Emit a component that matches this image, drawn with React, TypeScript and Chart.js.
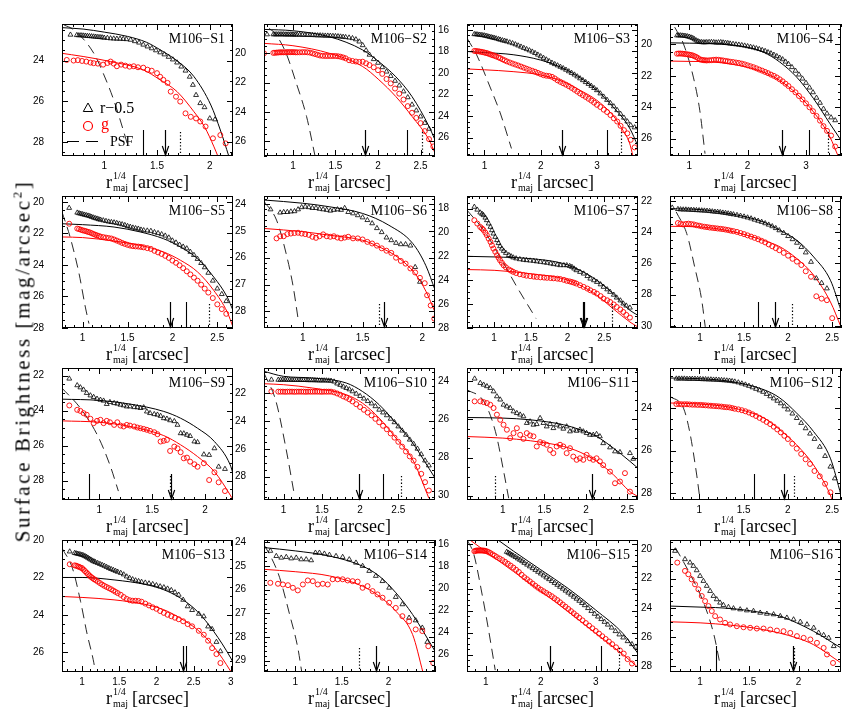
import React, { useEffect, useRef } from "react";
import { Chart, registerables } from "chart.js";
Chart.register(...registerables);

// ---------------- data (x = r_maj^(1/4) [arcsec], y = mag/arcsec^2) ----------------
// S1
const s1x = [0.68,0.74,0.76,0.78,0.8,0.82,0.84,0.86,0.88,0.9,0.92,0.94,0.96,0.98,1.0,1.03,1.06,1.09,1.12,1.15,1.18,1.21,1.25,1.29,1.33,1.37,1.41,1.45,1.49,1.53,1.57,1.61,1.65,1.69,1.73,1.77,1.81,1.84,1.87,1.91,1.95,2.0,2.05];
const s1r = [22.73,22.75,22.76,22.76,22.77,22.78,22.79,22.8,22.81,22.82,22.83,22.84,22.85,22.86,22.88,22.89,22.91,22.92,22.93,22.93,22.94,22.95,22.98,23.05,23.12,23.22,23.31,23.4,23.5,23.6,23.7,23.82,23.95,24.1,24.3,24.5,24.8,25.2,25.7,26.1,26.3,26.85,26.9];
const s1gx = [0.645,0.71,0.75,0.79,0.83,0.87,0.9,0.94,0.99,1.03,1.06,1.09,1.12,1.16,1.2,1.24,1.28,1.32,1.37,1.41,1.45,1.5,1.53,1.56,1.6,1.63,1.68,1.72,1.77,1.82,1.87,1.91,1.96,2.03,2.1,2.15];
const s1g = [23.97,24.0,23.98,24.02,24.05,24.1,24.13,24.15,24.2,24.12,24.05,24.15,24.28,24.2,24.25,24.3,24.28,24.33,24.35,24.45,24.5,24.62,24.8,24.95,25.1,25.53,25.78,26.02,26.6,26.77,26.85,27.0,27.25,27.83,27.67,28.08];
const s1frx = [0.6,0.8,1.0,1.22,1.4,1.53,1.7,1.85,2.01,2.1,2.18];
const s1fry = [22.38,22.45,22.6,22.81,23.1,23.47,24.05,24.79,26.19,27.42,28.7];
const s1fgx = [0.58,0.8,1.06,1.37,1.53,1.69,1.85,1.95,2.04,2.08];
const s1fgy = [23.63,23.8,24.05,24.46,24.95,25.53,26.52,27.26,28.25,28.75];
const s1px = [0.62,0.71,0.9,0.99,1.09,1.18,1.23];
const s1py = [22.25,22.48,23.63,24.62,25.94,27.42,28.3];
// S2
const s2x = [0.696,0.77,0.79,0.81,0.83,0.85,0.87,0.89,0.91,0.93,0.95,0.97,0.99,1.01,1.03,1.05,1.08,1.11,1.14,1.17,1.2,1.23,1.26,1.29,1.32,1.35,1.38,1.41,1.44,1.47,1.5,1.53,1.56,1.59,1.62,1.66,1.7,1.74,1.78,1.82,1.86,1.9,1.95,2.0,2.05,2.1,2.15,2.2,2.25,2.3,2.35,2.4,2.45,2.5,2.55,2.6];
const s2r = [18.71,18.71,18.71,18.71,18.71,18.71,18.71,18.71,18.72,18.72,18.72,18.72,18.72,18.73,18.73,18.73,18.74,18.74,18.75,18.75,18.76,18.76,18.77,18.78,18.78,18.79,18.8,18.8,18.81,18.82,18.83,18.84,18.86,18.88,18.9,18.93,18.97,19.05,19.2,19.45,19.8,20.1,20.4,20.65,20.95,21.25,21.55,21.88,22.2,22.6,23.0,23.5,23.9,24.31,24.75,25.15];
const s2gx = [0.66,0.77,0.79,0.81,0.83,0.85,0.87,0.89,0.91,0.93,0.95,0.97,0.99,1.01,1.03,1.05,1.08,1.11,1.14,1.17,1.2,1.23,1.26,1.29,1.32,1.35,1.38,1.41,1.44,1.47,1.5,1.53,1.56,1.59,1.62,1.66,1.7,1.74,1.78,1.82,1.86,1.9,1.95,2.0,2.05,2.1,2.15,2.2,2.25,2.3,2.35,2.4,2.45,2.5,2.55,2.6,2.65];
const s2g = [20.0,19.97,19.96,19.95,19.94,19.93,19.93,19.93,19.93,19.92,19.92,19.92,19.92,19.92,19.93,19.93,19.93,19.92,19.92,19.93,19.95,20.0,20.05,20.1,20.15,20.17,20.18,20.18,20.18,20.18,20.18,20.2,20.23,20.28,20.34,20.47,20.52,20.56,20.59,20.57,20.68,20.8,20.95,21.15,21.4,21.75,22.05,22.4,22.75,23.15,23.6,24.05,24.4,24.76,25.3,25.85,26.35];
const s2frx = [0.66,1.0,1.43,1.82,2.01,2.21,2.4,2.6,2.67];
const s2fry = [18.37,18.46,18.87,19.77,20.57,21.6,22.95,24.99,25.9];
const s2fgx = [0.66,1.0,1.43,1.82,2.01,2.21,2.4,2.6,2.67];
const s2fgy = [19.32,19.48,20.0,20.9,21.8,22.95,24.3,25.9,26.8];
const s2px = [0.72,0.79,0.92,1.04,1.16,1.26];
const s2py = [18.3,18.64,20.0,22.04,24.3,27.0];
// S3
const s3x = [0.82,0.85,0.88,0.91,0.94,0.97,1.0,1.03,1.06,1.09,1.12,1.15,1.18,1.21,1.25,1.28,1.32,1.36,1.4,1.45,1.5,1.55,1.6,1.65,1.7,1.75,1.8,1.85,1.9,1.95,2.0,2.05,2.1,2.15,2.2,2.25,2.3,2.35,2.4,2.45,2.5,2.55,2.6,2.65,2.7,2.75,2.8,2.85,2.9,2.95,3.0,3.06,3.12,3.18,3.24,3.3,3.36,3.42,3.48,3.54,3.6,3.67];
const s3r = [16.4,16.41,16.43,16.45,16.47,16.5,16.52,16.56,16.6,16.64,16.68,16.72,16.76,16.8,16.86,16.91,16.97,17.02,17.08,17.16,17.24,17.34,17.45,17.56,17.68,17.79,17.9,18.02,18.15,18.3,18.45,18.6,18.75,18.9,19.05,19.18,19.3,19.43,19.56,19.7,19.85,20.0,20.15,20.32,20.5,20.67,20.85,21.02,21.2,21.4,21.6,21.9,22.2,22.5,22.8,23.1,23.45,23.8,24.15,24.5,24.85,25.05];
const s3g = [17.95,17.96,17.98,18.0,18.03,18.06,18.1,18.14,18.18,18.24,18.3,18.35,18.4,18.47,18.55,18.62,18.73,18.82,18.92,19.02,19.12,19.21,19.3,19.4,19.5,19.6,19.7,19.79,19.88,19.99,20.1,20.2,20.25,20.28,20.35,20.5,20.68,20.82,20.95,21.08,21.22,21.38,21.55,21.72,21.9,22.06,22.22,22.39,22.56,22.75,22.95,23.15,23.4,23.62,23.9,24.2,24.5,24.9,25.3,25.6,26.2,26.9];
const s3frx = [0.69,1.0,1.51,2.0,2.4,2.69,2.99,3.28,3.58,3.73];
const s3fry = [18.0,18.1,18.3,18.8,19.56,20.4,21.57,23.1,25.1,26.8];
const s3fgx = [0.69,1.0,1.51,2.0,2.4,2.69,2.99,3.28,3.46,3.58,3.64];
const s3fgy = [19.62,19.7,19.87,20.18,20.8,21.57,22.5,23.9,25.3,26.5,27.7];
const s3px = [0.69,0.86,1.1,1.28,1.48];
const s3py = [16.77,18.3,21.3,23.7,27.0];
// S4
const s4x = [0.79,0.82,0.85,0.88,0.91,0.94,0.97,1.0,1.03,1.06,1.09,1.12,1.15,1.18,1.21,1.24,1.27,1.3,1.34,1.38,1.42,1.46,1.5,1.54,1.58,1.62,1.66,1.7,1.75,1.8,1.85,1.9,1.95,2.0,2.05,2.1,2.15,2.2,2.25,2.3,2.35,2.4,2.45,2.5,2.55,2.6,2.65,2.7,2.76,2.82,2.88,2.94,3.0,3.06,3.12,3.18,3.24,3.3,3.36,3.43,3.5];
const s4r = [19.43,19.43,19.43,19.44,19.45,19.47,19.49,19.52,19.56,19.6,19.67,19.75,19.8,19.85,19.86,19.87,19.87,19.86,19.85,19.85,19.86,19.88,19.87,19.86,19.88,19.9,19.92,19.95,19.97,20.0,20.02,20.05,20.08,20.12,20.16,20.2,20.25,20.3,20.36,20.42,20.5,20.57,20.66,20.75,20.85,20.95,21.1,21.25,21.45,21.68,21.92,22.18,22.45,22.75,23.05,23.4,23.72,24.1,24.4,24.65,24.83];
const s4g = [20.59,20.58,20.58,20.59,20.6,20.62,20.63,20.65,20.68,20.7,20.75,20.8,20.87,20.95,20.98,21.0,21.01,21.02,21.01,21.0,20.98,20.97,20.98,21.0,21.02,21.05,21.07,21.1,21.12,21.15,21.18,21.22,21.27,21.33,21.39,21.45,21.52,21.6,21.67,21.75,21.83,21.92,22.0,22.1,22.22,22.35,22.5,22.65,22.85,23.05,23.28,23.5,23.75,24.0,24.25,24.55,24.85,25.2,25.5,25.8,26.5];
const s4frx = [0.67,1.0,1.41,1.98,2.27,2.55,2.84,3.13,3.41,3.6];
const s4fry = [19.9,19.92,19.96,20.17,20.49,21.12,22.08,23.45,25.04,26.1];
const s4fgx = [0.67,1.0,1.41,1.98,2.27,2.55,2.84,3.13,3.41,3.55];
const s4fgy = [21.06,21.08,21.12,21.44,21.76,22.29,23.14,24.3,25.89,27.1];
const s4px = [0.75,0.9,1.07,1.18,1.27];
const s4py = [18.9,19.96,22.08,24.19,26.95];
// S5
const s5x = [0.85,0.94,0.96,0.98,1.0,1.02,1.04,1.06,1.08,1.1,1.12,1.14,1.16,1.18,1.2,1.23,1.26,1.29,1.32,1.35,1.38,1.41,1.44,1.47,1.5,1.53,1.56,1.59,1.62,1.65,1.68,1.72,1.76,1.8,1.84,1.88,1.92,1.96,2.0,2.04,2.08,2.12,2.16,2.2,2.24,2.28,2.32,2.36,2.4,2.45,2.5,2.55,2.6];
const s5r = [20.38,20.68,20.72,20.75,20.78,20.81,20.84,20.87,20.9,20.95,20.99,21.03,21.06,21.1,21.13,21.17,21.21,21.25,21.28,21.3,21.34,21.38,21.42,21.47,21.53,21.58,21.63,21.67,21.7,21.76,21.8,21.82,21.84,21.92,21.98,22.05,22.14,22.26,22.45,22.58,22.72,22.84,22.95,23.17,23.37,23.62,23.88,24.15,24.5,25.0,25.5,25.85,26.3];
const s5g = [21.38,21.69,21.72,21.76,21.8,21.83,21.86,21.9,21.93,21.98,22.03,22.08,22.12,22.16,22.2,22.23,22.26,22.29,22.32,22.38,22.45,22.52,22.6,22.66,22.72,22.77,22.8,22.82,22.83,22.85,22.88,22.93,22.98,23.1,23.2,23.3,23.42,23.55,23.72,23.86,24.02,24.2,24.4,24.6,24.8,25.0,25.25,25.5,25.75,26.1,26.5,26.8,27.1];
const s5frx = [0.77,1.0,1.35,1.64,1.9,2.09,2.28,2.46,2.61,2.675];
const s5fry = [21.38,21.44,21.59,21.9,22.33,22.86,23.6,24.76,26.03,26.88];
const s5fgx = [0.77,1.0,1.35,1.64,1.9,2.09,2.28,2.46,2.61,2.675];
const s5fgy = [22.22,22.26,22.48,22.75,23.17,23.7,24.44,25.61,26.98,27.94];
const s5px = [0.77,0.86,0.96,1.03,1.07];
const s5py = [20.63,22.22,24.55,26.67,27.72];
// S6
const s6x = [0.73,0.78,0.81,0.84,0.87,0.9,0.93,0.96,0.99,1.02,1.05,1.08,1.11,1.14,1.17,1.2,1.23,1.26,1.29,1.32,1.35,1.38,1.42,1.46,1.5,1.54,1.58,1.62,1.66,1.7,1.74,1.78,1.82,1.86,1.9,1.94,1.98,2.02,2.04,2.07,2.1];
const s6r = [24.2,null,24.32,24.3,24.3,24.28,24.27,24.2,24.12,24.1,24.12,24.15,24.15,24.18,24.2,24.22,24.25,24.22,24.2,24.22,24.15,24.3,24.35,24.42,24.5,24.6,24.72,24.9,25.05,25.25,25.35,25.45,25.5,25.5,25.55,26.35,26.9,null,null,null,null];
const s6g = [null,25.28,25.2,25.2,25.12,25.1,25.08,25.07,25.1,25.12,25.15,25.22,25.26,25.2,25.13,25.2,25.22,25.2,25.25,25.28,25.25,25.22,25.28,25.28,25.32,25.41,25.47,25.55,25.65,25.74,25.82,26.0,26.12,26.22,26.4,26.55,26.75,26.95,27.4,27.78,28.27];
const s6frx = [0.675,1.0,1.22,1.5,1.72,1.92,2.03,2.106];
const s6fry = [23.85,23.97,24.1,24.35,24.79,25.47,26.3,27.2];
const s6fgx = [0.675,1.0,1.22,1.5,1.64,1.8,1.94,2.03,2.106];
const s6fgy = [24.91,25.03,25.16,25.35,25.6,26.0,26.6,27.25,28.03];
const s6px = [0.675,0.78,0.86,0.92,0.96];
const s6py = [23.9,24.6,25.84,27.1,28.27];
// S7
const s7x = [0.73,0.77,0.81,0.835,0.855,0.88,0.9,0.925,0.95,0.97,0.99,1.015,1.04,1.06,1.08,1.105,1.13,1.16,1.2,1.23,1.26,1.3,1.35,1.4,1.44,1.49,1.54,1.58,1.63,1.68,1.72,1.77,1.81,1.86,1.9,1.95,1.99,2.03,2.06,2.09,2.12,2.17,2.22,2.27,2.31,2.36,2.4,2.45,2.49,2.54,2.58,2.63,2.67,2.72,2.76,2.8,2.85];
const s7r = [17.86,18.1,18.34,18.45,18.56,18.77,18.98,19.26,19.54,19.82,20.1,20.38,20.65,20.9,21.16,21.36,21.55,21.72,21.9,22.0,22.1,22.18,22.25,22.3,22.33,22.36,22.39,22.43,22.47,22.51,22.55,22.6,22.66,22.7,22.75,22.75,22.75,22.82,22.89,23.03,23.17,23.31,23.45,23.66,23.87,24.01,24.15,24.35,24.56,24.77,24.98,25.22,25.46,25.7,25.96,26.13,26.3];
const s7g = [18.98,19.26,19.54,19.67,19.8,20.02,20.23,20.52,20.8,21.08,21.35,21.62,21.9,22.12,22.33,22.54,22.75,22.92,23.1,23.2,23.3,23.4,23.5,23.56,23.62,23.66,23.7,23.73,23.76,23.78,23.8,23.82,23.84,23.87,23.9,23.97,24.05,24.1,24.15,24.21,24.28,24.42,24.56,24.7,24.84,24.98,25.12,25.33,25.54,25.68,25.82,26.03,26.24,26.45,26.66,26.9,27.13];
const s7frx = [0.63,1.0,1.49,1.94,2.17,2.4,2.62,2.85,2.96];
const s7fry = [22.0,22.05,22.19,22.6,23.17,24.0,25.12,26.52,26.94];
const s7fgx = [0.63,1.0,1.49,1.94,2.17,2.4,2.62,2.85,2.96];
const s7fgy = [23.11,23.17,23.45,23.87,24.42,25.26,26.38,27.5,27.92];
const s7px = [0.63,0.855,1.08,1.31,1.57];
const s7py = [18.14,19.8,22.05,24.56,27.2];
// S8
const s8x = [0.685,0.75,0.78,0.81,0.84,0.87,0.9,0.93,0.96,0.99,1.02,1.05,1.08,1.11,1.14,1.17,1.2,1.23,1.26,1.29,1.32,1.35,1.38,1.42,1.46,1.5,1.54,1.58,1.62,1.66,1.7,1.74,1.78,1.82,1.86,1.9,1.95,2.0,2.05,2.1,2.15,2.2,2.26,2.32,2.38,2.44,2.5];
const s8r = [22.43,22.52,22.54,22.55,22.55,22.56,22.57,22.58,22.59,22.6,22.61,22.62,22.63,22.65,22.67,22.69,22.7,22.72,22.75,22.77,22.8,22.83,22.86,22.9,22.95,23.0,23.06,23.12,23.2,23.27,23.34,23.43,23.52,23.62,23.74,23.88,24.05,24.25,24.45,24.68,24.95,25.3,25.9,26.95,27.25,27.6,null];
const s8g = [null,23.41,23.45,23.5,23.47,23.45,23.48,23.5,23.55,23.58,23.62,23.65,23.67,23.7,23.72,23.74,23.76,23.78,23.8,23.83,23.86,23.9,23.93,23.98,24.05,24.12,24.2,24.28,24.36,24.45,24.55,24.65,24.78,24.9,25.02,25.15,25.32,25.5,25.7,25.88,26.1,26.5,26.85,28.1,28.25,28.35,29.5];
const s8frx = [0.66,1.0,1.34,1.72,1.91,2.1,2.29,2.48,2.6];
const s8fry = [22.49,22.55,22.81,23.34,23.88,24.52,25.58,27.07,29.0];
const s8fgx = [0.66,1.0,1.34,1.72,1.91,2.1,2.29,2.48,2.6];
const s8fgy = [23.62,23.66,23.92,24.52,24.94,25.69,26.75,28.46,30.06];
const s8px = [0.73,0.85,0.94,1.02,1.06];
const s8py = [22.7,24.09,26.22,28.35,30.06];
// S9
const s9x = [0.715,0.79,0.82,0.85,0.88,0.915,0.946,0.978,1.01,1.04,1.07,1.1,1.14,1.17,1.2,1.23,1.26,1.29,1.33,1.36,1.39,1.42,1.45,1.48,1.52,1.55,1.58,1.61,1.64,1.67,1.71,1.74,1.77,1.8,1.83,1.86,1.9,1.93,1.99,2.04,2.09,2.13,2.19];
const s9r = [22.17,22.55,22.67,22.8,22.99,23.13,23.22,23.32,23.38,23.43,23.62,23.51,23.57,23.6,23.66,23.7,23.76,23.76,23.8,23.81,23.85,23.81,24.05,24.14,24.2,24.23,24.3,24.43,24.46,24.55,24.6,24.81,25.29,25.3,25.38,25.45,25.76,25.8,26.5,26.53,26.15,27.2,27.33];
const s9g = [23.7,23.95,24.01,24.14,24.23,24.46,24.71,24.58,24.52,24.71,24.58,24.66,24.81,24.66,24.85,24.9,24.81,24.85,24.9,24.96,25.0,25.04,25.09,25.15,25.23,25.34,25.76,25.72,25.67,26.3,26.05,26.15,26.37,26.72,26.68,26.91,27.06,27.2,27.0,27.96,27.52,28.09,28.59];
const s9frx = [0.646,1.0,1.29,1.61,1.77,1.93,2.09,2.24,2.266];
const s9fry = [23.34,23.41,23.62,24.04,24.43,25.0,25.76,27.1,27.6];
const s9fgx = [0.646,1.0,1.29,1.61,1.77,1.93,2.09,2.24,2.266];
const s9fgy = [24.58,24.66,24.9,25.42,25.95,26.62,27.48,28.82,29.1];
const s9px = [0.646,0.82,0.98,1.1,1.18];
const s9py = [22.71,23.85,25.38,27.1,28.59];
// S10
const s10x = [0.84,0.93,0.96,0.99,1.02,1.05,1.08,1.11,1.14,1.17,1.2,1.23,1.26,1.29,1.32,1.35,1.38,1.41,1.44,1.47,1.5,1.53,1.56,1.59,1.62,1.66,1.7,1.74,1.78,1.82,1.86,1.9,1.95,2.0,2.05,2.1,2.15,2.2,2.25,2.3,2.35,2.4,2.45,2.5,2.55,2.6,2.65,2.7,2.75,2.8,2.85,2.9];
const s10r = [21.04,21.05,21.05,21.04,21.05,21.05,21.05,21.06,21.06,21.06,21.06,21.07,21.07,21.07,21.08,21.08,21.08,21.09,21.09,21.1,21.1,21.1,21.1,21.11,21.12,21.18,21.32,21.42,21.54,21.64,21.74,21.88,22.05,22.22,22.4,22.58,22.75,22.95,23.2,23.4,23.6,23.85,24.1,24.4,24.7,25.0,25.35,25.65,26.0,26.4,26.85,27.2];
const s10g = [21.88,21.9,21.9,21.9,21.91,21.9,21.9,21.9,21.91,21.9,21.9,21.9,21.9,21.91,21.9,21.9,21.9,21.9,21.9,21.9,21.91,21.9,21.9,21.9,21.9,21.95,22.03,22.12,22.24,22.33,22.45,22.6,22.8,23.0,23.2,23.4,23.6,23.85,24.1,24.35,24.6,24.9,25.2,25.5,25.85,26.2,26.55,26.85,27.3,27.8,28.4,29.0];
const s10frx = [0.743,1.0,1.38,1.82,2.03,2.25,2.47,2.69,2.9,2.98];
const s10fry = [20.44,20.8,20.92,21.28,21.88,22.84,24.16,25.6,27.4,28.1];
const s10fgx = [0.743,1.0,1.38,1.82,2.03,2.25,2.47,2.69,2.9];
const s10fgy = [21.33,21.4,21.64,22.12,22.72,23.8,25.24,26.8,29.55];
const s10px = [0.743,0.9,1.03,1.14];
const s10py = [20.56,22.6,25.96,29.3];
// S11
const s11x = [0.66,0.728,0.768,0.808,0.848,0.888,0.928,0.968,1.008,1.048,1.088,1.128,1.168,1.208,1.248,1.288,1.328,1.368,1.408,1.448,1.488,1.528,1.568,1.608,1.648,1.688,1.728,1.768,1.808,1.848,1.888,1.928,1.968,2.008,2.048,2.088,2.128,2.168,2.208,2.29,2.35,2.41,2.47,2.53,2.57];
const s11r = [23.86,24.09,24.18,24.26,24.35,24.53,24.79,24.96,25.23,25.32,25.4,25.58,25.67,25.75,25.84,26.19,26.11,26.28,26.25,25.93,26.19,26.37,26.25,26.46,26.28,26.37,26.49,26.37,26.63,26.54,26.6,26.54,26.63,26.72,26.81,26.81,26.77,26.89,27.25,27.47,27.68,27.72,null,27.77,28.07];
const s11g = [25.05,25.05,25.09,25.14,25.23,25.4,25.75,26.02,26.28,26.54,26.98,26.72,26.46,26.81,27.02,26.72,26.84,26.89,27.42,27.19,27.25,27.33,27.6,27.77,27.42,27.33,27.42,27.77,27.51,27.95,28.12,28.04,28.12,27.86,28.04,28.12,28.04,28.2,28.4,28.74,29.35,29.26,28.82,29.79,null];
const s11frx = [0.568,1.0,1.33,1.73,1.93,2.13,2.33,2.53,2.627];
const s11fry = [25.9,25.93,26.02,26.28,26.54,26.9,27.5,28.2,28.56];
const s11fgx = [0.568,1.0,1.33,1.73,1.93,2.13,2.33,2.53,2.627];
const s11fgy = [26.9,26.98,27.12,27.42,27.72,28.2,28.9,29.79,30.05];
const s11px = [0.568,0.77,0.91,1.01,1.07];
const s11py = [24.44,25.05,26.63,28.74,30.14];
// S12
const s12x = [0.74,0.77,0.8,0.83,0.86,0.89,0.92,0.95,0.98,1.01,1.04,1.07,1.1,1.13,1.16,1.19,1.22,1.25,1.28,1.31,1.34,1.37,1.4,1.44,1.48,1.52,1.56,1.6,1.64,1.68,1.72,1.76,1.8,1.84,1.88,1.92,1.96,2.0,2.05,2.1,2.15,2.2,2.25,2.3,2.36,2.42,2.48,2.53];
const s12r = [22.62,22.62,22.62,22.62,22.63,22.63,22.63,22.63,22.64,22.64,22.65,22.65,22.66,22.66,22.67,22.67,22.68,22.69,22.7,22.71,22.72,22.74,22.76,22.8,22.85,22.9,22.96,23.03,23.1,23.17,23.24,23.34,23.45,23.55,23.66,23.78,23.92,24.07,24.26,24.47,24.7,24.95,25.2,25.45,25.82,26.25,26.75,27.3];
const s12g = [23.81,23.81,23.82,23.82,23.82,23.83,23.84,23.84,23.85,23.85,23.86,23.87,23.88,23.89,23.9,23.91,23.92,23.93,23.95,23.96,23.97,24.0,24.03,24.06,24.1,24.15,24.21,24.29,24.37,24.46,24.55,24.65,24.75,24.87,25.0,25.14,25.3,25.45,25.67,25.9,26.15,26.4,26.62,26.95,27.2,27.55,27.95,null];
const s12frx = [0.668,1.0,1.35,1.73,1.91,2.1,2.29,2.48,2.6];
const s12fry = [22.59,22.62,22.75,23.14,23.53,24.24,25.1,26.35,28.08];
const s12fgx = [0.668,1.0,1.35,1.73,1.91,2.1,2.29,2.48,2.5];
const s12fgy = [23.76,23.81,23.97,24.47,25.02,25.73,26.67,28.08,28.31];
const s12px = [0.668,0.82,0.89,0.97,1.0];
const s12py = [23.45,24.0,25.1,27.14,28.08];
// S13
const s13x = [0.834,0.9,0.92,0.94,0.96,0.98,1.0,1.02,1.04,1.06,1.08,1.1,1.12,1.14,1.16,1.18,1.21,1.24,1.27,1.3,1.33,1.36,1.39,1.42,1.45,1.48,1.52,1.56,1.6,1.64,1.68,1.72,1.76,1.8,1.85,1.9,1.95,2.0,2.05,2.1,2.15,2.2,2.25,2.3,2.36,2.42,2.48,2.57,2.637,2.695,2.749,2.807,2.861];
const s13r = [20.61,20.69,20.71,20.73,20.75,20.77,20.79,20.82,20.86,20.9,20.95,21.0,21.05,21.1,21.14,21.18,21.23,21.28,21.33,21.38,21.44,21.5,21.55,21.6,21.65,21.7,21.76,21.84,21.95,22.03,22.1,22.16,22.2,22.24,22.28,22.32,22.36,22.42,22.48,22.53,22.6,22.68,22.8,22.93,23.2,23.55,23.75,23.95,24.09,24.63,24.77,25.46,25.96];
const s13g = [21.29,21.35,21.37,21.4,21.43,21.47,21.5,21.58,21.66,21.74,21.82,21.9,21.97,22.03,22.09,22.14,22.22,22.3,22.38,22.45,22.51,22.57,22.63,22.7,22.77,22.84,22.93,23.05,23.15,23.22,23.25,23.25,23.26,23.3,23.4,23.5,23.6,23.68,23.8,23.9,24.0,24.08,24.16,24.24,24.35,24.5,24.62,24.86,25.07,25.39,25.79,26.11,26.59];
const s13frx = [0.73,1.0,1.43,1.87,2.1,2.32,2.55,2.77,3.0,3.03];
const s13fry = [22.0,22.0,22.13,22.39,22.66,23.1,23.82,24.89,26.32,26.55];
const s13fgx = [0.73,1.0,1.43,1.87,2.1,2.32,2.55,2.77,3.0,3.03];
const s13fgy = [23.02,23.07,23.2,23.46,23.73,24.18,24.8,25.7,27.04,27.25];
const s13px = [0.73,0.87,0.98,1.07,1.15,1.18];
const s13py = [20.43,21.5,23.29,25.07,26.41,27.07];
// S14
const s14x = [0.733,0.797,0.85,0.904,0.957,1.011,1.064,1.118,1.171,1.217,1.26,1.313,1.367,1.438,1.509,1.58,1.652,1.723,1.794,1.865,1.936,2.008,2.079,2.15,2.222,2.293,2.364,2.417];
const s14r = [24.36,24.58,24.65,24.62,24.68,24.65,24.72,24.72,24.76,24.44,24.44,24.48,24.53,24.58,24.62,24.72,24.86,25.0,25.21,25.42,25.64,25.92,26.31,26.62,27.19,27.3,27.61,28.21];
const s14gx = [0.733,0.815,0.868,0.922,0.975,1.028,1.082,1.135,1.189,1.242,1.296,1.349,1.402,1.456,1.509,1.563,1.616,1.67,1.723,1.776,1.83,1.883,1.937,2.008,2.079,2.15,2.222,2.293,2.364,2.428,2.481];
const s14g = [25.71,25.75,25.78,25.81,25.92,26.03,25.78,25.61,25.64,25.78,25.75,25.78,25.56,25.56,25.56,25.61,25.64,25.66,25.92,25.85,26.06,26.2,26.34,26.55,26.77,27.12,27.34,27.68,27.75,28.39,29.1];
const s14frx = [0.665,1.0,1.37,1.72,1.9,2.08,2.26,2.5];
const s14fry = [24.22,24.36,24.58,25.0,25.42,26.13,27.05,28.6];
const s14fgx = [0.665,1.0,1.37,1.72,1.9,2.08,2.26,2.37];
const s14fgy = [25.14,25.24,25.42,25.85,26.27,26.91,27.9,29.48];
const s14px = [0.665,0.75,0.833,0.94,1.028,1.07];
const s14py = [24.1,24.7,25.49,27.05,28.46,29.48];
// S15
const s15x = [1.38,1.41,1.44,1.47,1.5,1.54,1.58,1.62,1.66,1.7,1.75,1.8,1.85,1.9,1.95,2.0,2.05,2.1,2.15,2.2,2.25,2.3,2.35,2.4,2.45,2.5,2.55,2.6,2.65,2.7,2.75,2.8,2.86,2.92,2.98,3.04,3.1,3.16,3.22,3.29,3.36,3.43,3.5,3.58,3.66,3.73];
const s15r = [16.68,16.76,16.85,16.94,17.03,17.15,17.28,17.4,17.53,17.68,17.84,18.0,18.16,18.32,18.49,18.65,18.82,19.0,19.16,19.33,19.5,19.67,19.85,20.02,20.2,20.38,20.56,20.75,20.93,21.12,21.32,21.52,21.78,22.04,22.3,22.55,22.78,23.03,23.28,23.55,23.87,24.17,24.45,24.78,25.05,25.28];
const s15gx = [0.79,0.81,0.83,0.85,0.87,0.89,0.91,0.93,0.95,0.97,0.99,1.02,1.05,1.08,1.12,1.16,1.2,1.25,1.3,1.35,1.4,1.45,1.5,1.55,1.6,1.65,1.7,1.75,1.8,1.85,1.9,1.95,2.0,2.05,2.1,2.15,2.2,2.25,2.3,2.35,2.4,2.45,2.5,2.55,2.6,2.65,2.7,2.76,2.82,2.88,2.94,3.0,3.06,3.12,3.18,3.24,3.3,3.37,3.44,3.51,3.58,3.66];
const s15g = [16.62,16.58,16.56,16.55,16.55,16.55,16.55,16.55,16.56,16.57,16.59,16.63,16.7,16.78,16.9,17.02,17.15,17.28,17.42,17.58,17.75,17.92,18.1,18.3,18.5,18.75,18.98,19.16,19.35,19.55,19.75,19.93,20.1,20.25,20.4,20.55,20.7,20.88,21.05,21.25,21.45,21.65,21.85,22.05,22.25,22.45,22.65,22.89,23.13,23.37,23.61,23.85,24.09,24.33,24.57,24.81,25.05,25.33,25.61,25.9,26.4,26.8];
const s15frx = [1.22,1.5,2.0,2.5,3.0,3.5,3.77];
const s15fry = [15.6,16.6,18.3,20.0,21.95,24.1,25.9];
const s15fgx = [0.71,1.0,1.5,2.0,2.5,3.0,3.5,3.77];
const s15fgy = [15.6,16.65,18.45,20.25,22.1,24.05,26.0,27.15];
const s15px = [0.66,0.78,0.93,1.05,1.17];
const s15py = [15.6,16.9,20.5,23.8,27.4];
// S16
const s16x = [0.746,0.847,0.898,0.932,0.966,1.0,1.034,1.068,1.102,1.136,1.169,1.203,1.237,1.288,1.339,1.407,1.475,1.542,1.61,1.678,1.746,1.814,1.881,1.949,2.017,2.085,2.153,2.203,2.254,2.305,2.356];
const s16r = [20.1,20.67,20.9,21.13,21.43,21.82,22.16,22.5,22.85,23.19,23.42,23.65,23.81,23.95,24.04,24.11,24.18,24.22,24.34,24.41,24.45,24.57,24.68,24.8,24.96,25.14,25.37,25.71,25.87,26.06,26.63];
const s16gx = [0.769,0.847,0.881,0.915,0.949,0.983,1.017,1.051,1.085,1.119,1.153,1.203,1.254,1.305,1.373,1.441,1.508,1.576,1.644,1.712,1.78,1.847,1.915,1.983,2.051,2.119,2.186,2.254,2.288,2.349];
const s16g = [20.9,21.47,21.7,22.05,22.39,22.73,23.19,23.54,23.88,24.22,24.57,24.8,25.03,25.14,25.26,25.33,25.37,25.42,25.42,25.49,25.56,25.6,25.72,25.94,26.06,26.17,26.4,26.75,27.2,27.78];
const s16frx = [0.695,1.0,1.31,1.64,1.81,1.98,2.15,2.43];
const s16fry = [23.88,23.95,24.04,24.34,24.57,25.03,25.6,26.75];
const s16fgx = [0.695,1.0,1.31,1.64,1.98,2.15,2.43];
const s16fgy = [24.96,25.03,25.19,25.49,26.06,26.52,27.78];
const s16px = [0.75,0.9,1.03,1.14,1.2];
const s16py = [19.87,21.7,23.54,25.83,27.78];

// axis tick labels
const xt05a = [1, 1.5, 2];
const xt05b = [1, 1.5, 2, 2.5];
const xt05c = [1, 1.5, 2, 2.5, 3];
const xt1 = [1, 2, 3];

type Mk = [number, "solid" | "arrow" | "dotted"];
interface P {
  name: string; xr: [number, number]; yr: [number, number];
  xt: number[]; yt: number[]; xm: number; ym: number;
  rx: number[]; ry: (number | null)[]; gx: number[]; gy: (number | null)[];
  frx: number[]; fry: number[]; fgx: number[]; fgy: number[]; px: number[]; py: number[];
  mk: Mk[]; legend?: boolean;
}

const panels: P[] = [
  { name: "M106−S1", xr: [0.6, 2.22], yr: [22.2, 28.7], xt: xt05a, yt: [24, 26, 28], xm: 0.1, ym: 0.5,
    rx: s1x, ry: s1r, gx: s1gx, gy: s1g, frx: s1frx, fry: s1fry, fgx: s1fgx, fgy: s1fgy, px: s1px, py: s1py,
    mk: [[1.368, "solid"], [1.574, "arrow"], [1.717, "dotted"]], legend: true },
  { name: "M106−S2", xr: [0.66, 2.67], yr: [18, 27], xt: xt05b, yt: [20, 22, 24, 26], xm: 0.1, ym: 0.5,
    rx: s2x, ry: s2r, gx: s2gx, gy: s2g, frx: s2frx, fry: s2fry, fgx: s2fgx, fgy: s2fgy, px: s2px, py: s2py,
    mk: [[1.849, "arrow"], [2.344, "solid"], [2.519, "dotted"]] },
  { name: "M106−S3", xr: [0.69, 3.73], yr: [15.45, 27.7], xt: xt1, yt: [16, 18, 20, 22, 24, 26], xm: 0.2, ym: 0.5,
    rx: s3x, ry: s3r, gx: s3x, gy: s3g, frx: s3frx, fry: s3fry, fgx: s3fgx, fgy: s3fgy, px: s3px, py: s3py,
    mk: [[2.386, "arrow"], [3.177, "solid"], [3.43, "dotted"]] },
  { name: "M106−S4", xr: [0.67, 3.6], yr: [18.7, 27.1], xt: xt1, yt: [20, 22, 24, 26], xm: 0.2, ym: 0.5,
    rx: s4x, ry: s4r, gx: s4x, gy: s4g, frx: s4frx, fry: s4fry, fgx: s4fgx, fgy: s4fgy, px: s4px, py: s4py,
    mk: [[2.594, "arrow"], [3.057, "solid"], [3.371, "dotted"]] },
  { name: "M106−S5", xr: [0.77, 2.675], yr: [19.62, 28], xt: xt05b, yt: [20, 22, 24, 26, 28], xm: 0.1, ym: 0.5,
    rx: s5x, ry: s5r, gx: s5x, gy: s5g, frx: s5frx, fry: s5fry, fgx: s5fgx, fgy: s5fgy, px: s5px, py: s5py,
    mk: [[1.971, "arrow"], [2.146, "solid"], [2.406, "dotted"]] },
  { name: "M106−S6", xr: [0.675, 2.106], yr: [23.7, 28.62], xt: xt05a, yt: [24, 25, 26, 27, 28], xm: 0.1, ym: 0.2,
    rx: s6x, ry: s6r, gx: s6x, gy: s6g, frx: s6frx, fry: s6fry, fgx: s6fgx, fgy: s6fgy, px: s6px, py: s6py,
    mk: [[1.639, "dotted"], [1.681, "arrow"]] },
  { name: "M106−S7", xr: [0.63, 2.96], yr: [16.95, 28], xt: xt05b, yt: [18, 20, 22, 24, 26, 28], xm: 0.1, ym: 0.5,
    rx: s7x, ry: s7r, gx: s7x, gy: s7g, frx: s7frx, fry: s7fry, fgx: s7fgx, fgy: s7fgy, px: s7px, py: s7py,
    mk: [[2.21, "arrow"], [2.222, "arrow"], [2.61, "dotted"]] },
  { name: "M106−S8", xr: [0.66, 2.6], yr: [21.68, 30.13], xt: xt05b, yt: [22, 24, 26, 28, 30], xm: 0.1, ym: 0.5,
    rx: s8x, ry: s8r, gx: s8x, gy: s8g, frx: s8frx, fry: s8fry, fgx: s8fgx, fgy: s8fgy, px: s8px, py: s8py,
    mk: [[1.664, "solid"], [1.854, "arrow"], [2.044, "dotted"]] },
  { name: "M106−S9", xr: [0.646, 2.266], yr: [21.56, 29.1], xt: xt05a, yt: [22, 24, 26, 28], xm: 0.1, ym: 0.5,
    rx: s9x, ry: s9r, gx: s9x, gy: s9g, frx: s9frx, fry: s9fry, fgx: s9fgx, fgy: s9fgy, px: s9px, py: s9py,
    mk: [[0.899, "solid"], [1.668, "dotted"], [1.674, "arrow"]] },
  { name: "M106−S10", xr: [0.743, 2.98], yr: [20.2, 29.68], xt: xt05b, yt: [22, 24, 26, 28], xm: 0.1, ym: 0.5,
    rx: s10x, ry: s10r, gx: s10x, gy: s10g, frx: s10frx, fry: s10fry, fgx: s10fgx, fgy: s10fgy, px: s10px, py: s10py,
    mk: [[1.991, "arrow"], [2.296, "solid"], [2.535, "dotted"]] },
  { name: "M106−S11", xr: [0.568, 2.627], yr: [23.3, 30.23], xt: xt05b, yt: [24, 26, 28, 30], xm: 0.1, ym: 0.5,
    rx: s11x, ry: s11r, gx: s11x, gy: s11g, frx: s11frx, fry: s11fry, fgx: s11fgx, fgy: s11fgy, px: s11px, py: s11py,
    mk: [[0.908, "dotted"], [2.076, "arrow"]] },
  { name: "M106−S12", xr: [0.668, 2.6], yr: [22.12, 28.31], xt: xt05b, yt: [24, 26, 28], xm: 0.1, ym: 0.5,
    rx: s12x, ry: s12r, gx: s12x, gy: s12g, frx: s12frx, fry: s12fry, fgx: s12fgx, fgy: s12fgy, px: s12px, py: s12py,
    mk: [[1.612, "solid"], [1.952, "arrow"], [2.073, "dotted"]] },
  { name: "M106−S13", xr: [0.73, 3.03], yr: [19.99, 27.07], xt: xt05c, yt: [20, 22, 24, 26], xm: 0.1, ym: 0.5,
    rx: s13x, ry: s13r, gx: s13x, gy: s13g, frx: s13frx, fry: s13fry, fgx: s13fgx, fgy: s13fgy, px: s13px, py: s13py,
    mk: [[2.359, "arrow"], [2.404, "solid"]] },
  { name: "M106−S14", xr: [0.665, 2.5], yr: [23.9, 29.48], xt: xt05a, yt: [24, 25, 26, 27, 28, 29], xm: 0.1, ym: 0.2,
    rx: s14x, ry: s14r, gx: s14gx, gy: s14g, frx: s14frx, fry: s14fry, fgx: s14fgx, fgy: s14fgy, px: s14px, py: s14py,
    mk: [[1.68, "dotted"], [1.865, "arrow"]] },
  { name: "M106−S15", xr: [0.656, 3.77], yr: [15.6, 27.57], xt: xt1, yt: [16, 18, 20, 22, 24, 26], xm: 0.2, ym: 0.5,
    rx: s15x, ry: s15r, gx: s15gx, gy: s15g, frx: s15frx, fry: s15fry, fgx: s15fgx, fgy: s15fgy, px: s15px, py: s15py,
    mk: [[2.16, "arrow"], [3.1, "solid"], [3.42, "dotted"]] },
  { name: "M106−S16", xr: [0.695, 2.43], yr: [19.35, 28.4], xt: xt05a, yt: [20, 22, 24, 26, 28], xm: 0.1, ym: 0.5,
    rx: s16x, ry: s16r, gx: s16gx, gy: s16g, frx: s16frx, fry: s16fry, fgx: s16fgx, fgy: s16fgy, px: s16px, py: s16py,
    mk: [[1.163, "solid"], [1.942, "arrow"], [1.956, "dotted"]] },
];

// ---------------- layout ----------------
const COLS = [62, 264, 467, 670];
const ROWS = [24, 196, 368, 540];
const PW = 171, PH = 132;
const PADL = 44, PADT = 18, PADR = 8, PADB = 40;
const SERIF = '"Liberation Serif", "Times New Roman", serif';
const SANS = '"Liberation Sans", Arial, sans-serif';
const RED = "#ff0000";

const pts = (xs: number[], ys: (number | null)[]) =>
  xs.map((x, i) => ({ x, y: ys[i] as number })).filter((d) => d.y !== null && d.y !== undefined);

function decoPlugin(p: P) {
  return {
    id: "deco",
    afterDraw(chart: any) {
      const { ctx, chartArea: a, scales } = chart;
      const sx = scales.x, sy = scales.y;
      ctx.save();
      ctx.strokeStyle = "#000";
      ctx.fillStyle = "#000";
      ctx.lineWidth = 1;
      ctx.setLineDash([]);
      const seg = (x1: number, y1: number, x2: number, y2: number) => {
        ctx.beginPath(); ctx.moveTo(x1, y1); ctx.lineTo(x2, y2); ctx.stroke();
      };
      // frame
      ctx.strokeRect(a.left + 0.5, a.top + 0.5, a.right - a.left - 1, a.bottom - a.top - 1);
      // x ticks (inward, bottom + top)
      const xMaj = p.xt[1] - p.xt[0];
      for (let k = Math.ceil(p.xr[0] / p.xm - 1e-9); k * p.xm <= p.xr[1] + 1e-9; k++) {
        const v = k * p.xm;
        const maj = Math.abs(v / xMaj - Math.round(v / xMaj)) < 1e-6;
        const len = maj ? 6 : 3;
        const X = Math.round(sx.getPixelForValue(v)) + 0.5;
        seg(X, a.bottom, X, a.bottom - len);
        seg(X, a.top, X, a.top + len);
      }
      // y ticks (inward, left + right)
      const yMaj = p.yt.length > 1 ? p.yt[1] - p.yt[0] : 2;
      for (let k = Math.ceil(p.yr[0] / p.ym - 1e-9); k * p.ym <= p.yr[1] + 1e-9; k++) {
        const v = k * p.ym;
        const maj = Math.abs(v / yMaj - Math.round(v / yMaj)) < 1e-6;
        const len = maj ? 6 : 3;
        const Y = Math.round(sy.getPixelForValue(v)) + 0.5;
        seg(a.left, Y, a.left + len, Y);
        seg(a.right, Y, a.right - len, Y);
      }
      // x tick labels
      ctx.font = `10px ${SANS}`;
      ctx.textAlign = "center";
      ctx.textBaseline = "middle";
      for (const v of p.xt) {
        if (v < p.xr[0] || v > p.xr[1]) continue;
        ctx.fillText(String(v), sx.getPixelForValue(v), a.bottom + 10.5);
      }
      // markers
      for (const [mx, kind] of p.mk) {
        const X = Math.round(sx.getPixelForValue(mx)) + 0.5;
        const y0 = a.bottom - 26;
        if (kind === "dotted") {
          ctx.lineWidth = 1.2;
          ctx.setLineDash([1.3, 2]);
          seg(X, y0 + 2, X, a.bottom);
          ctx.setLineDash([]);
        } else if (kind === "solid") {
          ctx.lineWidth = 1.1;
          seg(X, y0, X, a.bottom);
        } else {
          ctx.lineWidth = 1.2;
          seg(X, y0, X, a.bottom - 1);
          ctx.beginPath();
          ctx.moveTo(X - 3.2, a.bottom - 10);
          ctx.lineTo(X, a.bottom - 1);
          ctx.lineTo(X + 3.2, a.bottom - 10);
          ctx.stroke();
        }
      }
      ctx.lineWidth = 1;
      // panel name
      ctx.font = `14px ${SERIF}`;
      ctx.textAlign = "right";
      ctx.textBaseline = "alphabetic";
      ctx.fillText(p.name, a.right - 8, a.top + 19);
      // x axis title r^{1/4}_{maj} [arcsec]
      const cx = (a.left + a.right) / 2;
      const base = a.bottom + 31.5;
      ctx.textAlign = "left";
      ctx.font = `18px ${SERIF}`;
      const wr = ctx.measureText("r").width;
      const wb = ctx.measureText("[arcsec]").width;
      ctx.font = `10px ${SERIF}`;
      const ws = Math.max(ctx.measureText("1/4").width, ctx.measureText("maj").width);
      const total = wr + 1 + ws + 4 + wb;
      let x = cx - total / 2;
      ctx.font = `18px ${SERIF}`;
      ctx.fillText("r", x, base);
      x += wr + 1;
      ctx.font = `10px ${SERIF}`;
      ctx.fillText("1/4", x, base - 8.2);
      ctx.fillText("maj", x, base + 3.8);
      x += ws + 4;
      ctx.font = `18px ${SERIF}`;
      ctx.fillText("[arcsec]", x, base);
      // legend
      if (p.legend) {
        const lx = a.left + 26;
        ctx.lineWidth = 1;
        ctx.strokeStyle = "#000";
        ctx.beginPath();
        ctx.moveTo(lx, a.top + 79);
        ctx.lineTo(lx + 4.7, a.top + 87.5);
        ctx.lineTo(lx - 4.7, a.top + 87.5);
        ctx.closePath();
        ctx.stroke();
        ctx.font = `16px ${SERIF}`;
        ctx.fillStyle = "#000";
        ctx.fillText("r−0.5", a.left + 38, a.top + 89);
        ctx.strokeStyle = RED;
        ctx.lineWidth = 1.2;
        ctx.beginPath();
        ctx.arc(lx, a.top + 102, 4.5, 0, Math.PI * 2);
        ctx.stroke();
        ctx.fillStyle = RED;
        ctx.fillText("g", a.left + 39, a.top + 105);
        ctx.strokeStyle = "#000";
        ctx.lineWidth = 1;
        ctx.setLineDash([12, 7]);
        seg(a.left + 5, a.top + 117.5, a.left + 43, a.top + 117.5);
        ctx.setLineDash([]);
        ctx.fillStyle = "#000";
        ctx.font = `14px ${SERIF}`;
        ctx.fillText("PSF", a.left + 48, a.top + 122);
      }
      ctx.restore();
    },
  };
}

function Panel({ p, col, row }: { p: P; col: number; row: number }) {
  const ref = useRef<HTMLCanvasElement | null>(null);
  useEffect(() => {
    if (!ref.current) return;
    const inRange = (arr: number[], r: [number, number]) => arr.filter((v) => v >= r[0] - 1e-9 && v <= r[1] + 1e-9);
    const chart = new Chart(ref.current, {
      type: "scatter",
      data: {
        datasets: [
          { data: pts(p.gx, p.gy), pointStyle: "circle", pointRadius: 2.5, borderColor: RED,
            backgroundColor: "rgba(0,0,0,0)", borderWidth: 0.9, showLine: false } as any,
          { data: pts(p.rx, p.ry), pointStyle: "triangle", pointRadius: 2.8, borderColor: "#000",
            backgroundColor: "rgba(0,0,0,0)", borderWidth: 0.8, showLine: false } as any,
          { type: "line", data: pts(p.frx, p.fry), borderColor: "#000", borderWidth: 1, pointRadius: 0,
            cubicInterpolationMode: "monotone", fill: false } as any,
          { type: "line", data: pts(p.fgx, p.fgy), borderColor: RED, borderWidth: 1, pointRadius: 0,
            cubicInterpolationMode: "monotone", fill: false } as any,
          { type: "line", data: pts(p.px, p.py), borderColor: "#111", borderWidth: 0.9, borderDash: [10, 6],
            pointRadius: 0, cubicInterpolationMode: "monotone", fill: false } as any,
        ],
      },
      options: {
        responsive: false,
        maintainAspectRatio: false,
        animation: false,
        events: [],
        layout: { padding: { left: 0, top: PADT, right: PADR, bottom: 0 } },
        plugins: { legend: { display: false }, tooltip: { enabled: false } },
        scales: {
          x: {
            type: "linear", min: p.xr[0], max: p.xr[1],
            grid: { display: false }, border: { display: false },
            afterBuildTicks: (s: any) => { s.ticks = inRange(p.xt, p.xr).map((v) => ({ value: v })); },
            afterFit: (s: any) => { s.height = PADB; },
            ticks: { display: false },
          },
          y: {
            type: "linear", reverse: true, min: p.yr[0], max: p.yr[1],
            grid: { display: false }, border: { display: false },
            afterBuildTicks: (s: any) => { s.ticks = inRange(p.yt, p.yr).map((v) => ({ value: v })); },
            afterFit: (s: any) => { s.width = PADL; },
            ticks: { autoSkip: false, padding: 10, color: "#000",
              font: { family: SANS, size: 10 }, callback: (v: any) => String(v) },
          },
        },
      } as any,
      plugins: [decoPlugin(p)],
    });
    return () => chart.destroy();
  }, [p]);
  const w = PADL + PW + PADR;
  const h = PADT + PH + PADB;
  return (
    <canvas
      ref={ref}
      width={w}
      height={h}
      style={{ position: "absolute", left: COLS[col] - PADL, top: ROWS[row] - PADT, width: w, height: h }}
    />
  );
}

export default function App() {
  return (
    <div style={{ position: "absolute", left: 0, top: 0, width: 863, height: 723, background: "#fff", overflow: "hidden" }}>
      {panels.map((p, i) => (
        <Panel key={p.name} p={p} col={i % 4} row={Math.floor(i / 4)} />
      ))}
      <div
        style={{
          position: "absolute", left: 23, top: 361, transform: "translate(-50%, -50%) rotate(-90deg)",
          whiteSpace: "nowrap", fontFamily: SERIF, fontSize: 21, letterSpacing: "2.6px", lineHeight: 1, color: "#000",
        }}
      >
        Surface Brightness [mag/arcsec<span style={{ fontSize: "0.62em", position: "relative", top: "-0.6em" }}>2</span>]
      </div>
    </div>
  );
}
